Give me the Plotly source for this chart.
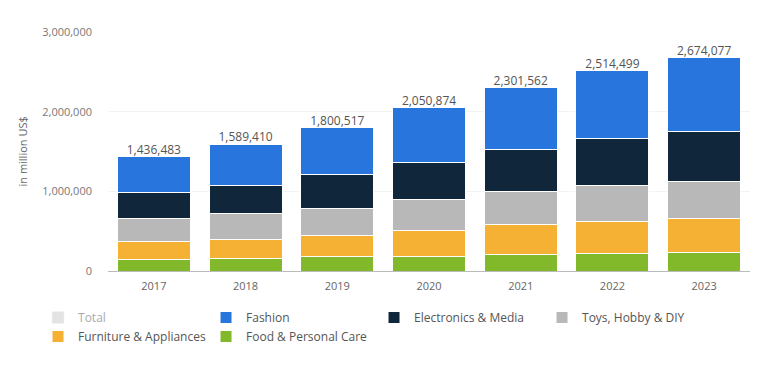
import plotly.graph_objects as go

years = ["2017", "2018", "2019", "2020", "2021", "2022", "2023"]
total = [1436483, 1589410, 1800517, 2050874, 2301562, 2514499, 2674077]
fashion = [451000, 518000, 592000, 689000, 774000, 850000, 917000]
electronics = [325000, 355000, 423000, 468000, 534000, 585000, 636000]
toys = [292000, 319000, 339000, 384000, 416000, 455000, 459000]
furniture = [228000, 246000, 271000, 324000, 366000, 400000, 427000]
food = [140000, 151000, 176000, 186000, 212000, 224000, 235000]

FONT = "Open Sans"
fig = go.Figure()

# stacked from bottom to top
series = [
    ("Food & Personal Care", food, "#82b92a", 6),
    ("Furniture & Appliances", furniture, "#f4b133", 5),
    ("Toys, Hobby & DIY", toys, "#b8b8b8", 4),
    ("Electronics & Media", electronics, "#10263b", 3),
    ("Fashion", fashion, "#2876dd", 2),
]
for name, vals, color, rank in series:
    fig.add_trace(go.Bar(
        x=years, y=vals, name=name, legendrank=rank,
        marker=dict(color=color, line=dict(color="white", width=1)),
        hoverinfo="skip",
    ))

fig.add_trace(go.Bar(
    x=years, y=total, name="Total", legendrank=1, visible="legendonly",
    marker=dict(color="#c9c9c9"),
))

fig.add_trace(go.Scatter(
    x=years, y=total, mode="text",
    text=[f"{v:,}" for v in total], textposition="top center",
    textfont=dict(family=FONT, size=12, color="#555555"),
    showlegend=False, cliponaxis=False, hoverinfo="skip",
))

# page body has an 8px default margin: shrink figure accordingly
fig.update_layout(
    width=759, height=358,
    margin=dict(l=100, r=17, t=24, b=95),
    barmode="stack", bargap=0.205,
    paper_bgcolor="white", plot_bgcolor="white",
    font=dict(family=FONT, size=11, color="#666666"),
    showlegend=True,
    legend=dict(
        orientation="h", x=-0.109, y=-0.134, xanchor="left", yanchor="top",
        entrywidth=123, entrywidthmode="pixels", itemwidth=30,
        traceorder="normal", tracegroupgap=0,
        font=dict(family=FONT, size=12, color="#555555"),
        itemclick=False, itemdoubleclick=False,
    ),
    annotations=[dict(
        text="in million US$", xref="paper", yref="paper",
        x=(22 - 108) / 642, y=0.5, xanchor="center", yanchor="middle",
        textangle=-90, showarrow=False,
        font=dict(family=FONT, size=11, color="#666666"),
    )],
)
fig.update_xaxes(
    showline=True, linecolor="#bbbbbb", linewidth=1, showgrid=False,
    ticks="", ticklabelstandoff=5,
    tickfont=dict(family=FONT, size=11, color="#666666"),
)
fig.update_yaxes(
    range=[0, 3000000], dtick=1000000, tickformat=",",
    showgrid=True, gridcolor="#f3f3f3", zeroline=False,
    ticks="", ticklabelstandoff=15,
    tickfont=dict(family=FONT, size=11, color="#777777"),
)

fig.write_html("out.html")
